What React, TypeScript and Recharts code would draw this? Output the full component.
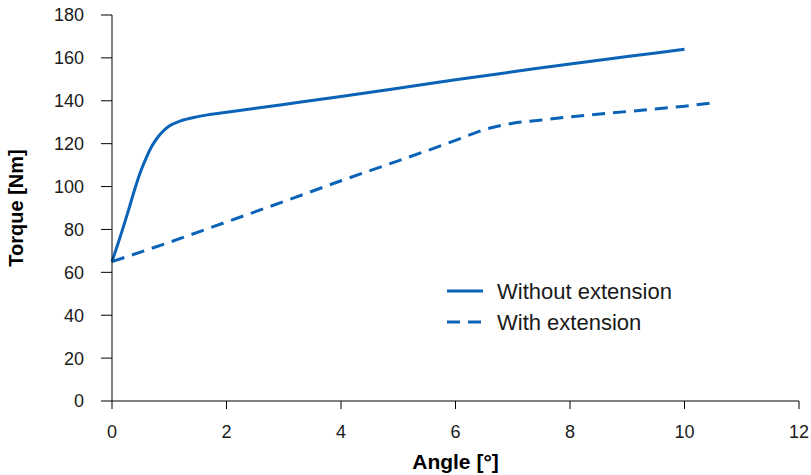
import { Line, LineChart, XAxis, YAxis } from "recharts";

// angle [°] vs torque [Nm]
const withoutAngle = [0, 0.1, 0.2, 0.3, 0.4, 0.5, 0.6, 0.7, 0.8, 0.9, 1, 1.2, 1.5, 2, 3, 4, 5, 6, 7, 8, 9, 10];
const withoutTorque = [65, 73, 81.3, 90, 99, 107, 113.5, 119, 123, 126, 128.2, 130.6, 132.6, 134.6, 138.3, 142, 145.8, 149.8, 153.5, 157.2, 160.6, 164];

const withAngle = [0, 1, 2, 3, 4, 5, 6, 6.5, 7, 7.5, 8, 9, 10, 10.57];
const withTorque = [65, 74, 83.5, 93, 102.7, 112, 121.5, 126.5, 129.5, 131, 132.5, 135, 137.5, 139.3];

const xTicks = [0, 2, 4, 6, 8, 10, 12];
const yTicks = [0, 20, 40, 60, 80, 100, 120, 140, 160, 180];

const seriesNames = ["Without extension", "With extension"];

const BLUE = "#0B63B8";
const FONT = "'Liberation Sans', Arial, sans-serif";

const withoutData = withoutAngle.map((a, i) => ({ angle: a, torque: withoutTorque[i] }));
const withData = withAngle.map((a, i) => ({ angle: a, torque: withTorque[i] }));

function LegendBox() {
  return (
    <svg width={260} height={70} style={{ position: "absolute", left: 440, top: 275, overflow: "visible" }}>
      <line x1={7} x2={43} y1={16} y2={16} stroke={BLUE} strokeWidth={3} />
      <text x={57} y={23.5} fontSize={22} fill="#1a1a1a" fontFamily={FONT}>{seriesNames[0]}</text>
      <line x1={7} x2={43} y1={47} y2={47} stroke={BLUE} strokeWidth={3} strokeDasharray="13 8" />
      <text x={57} y={54.5} fontSize={22} fill="#1a1a1a" fontFamily={FONT}>{seriesNames[1]}</text>
    </svg>
  );
}

export default function App() {
  return (
    <div style={{ position: "absolute", left: 0, top: 0, width: 811, height: 475, background: "#fff" }}>
      <LineChart width={811} height={475} margin={{ top: 15, right: 12, bottom: 0, left: 0 }}>
        <XAxis
          type="number"
          dataKey="angle"
          domain={[0, 12]}
          ticks={xTicks}
          height={74}
          tickSize={8}
          tickMargin={16}
          stroke="#000"
          tick={{ fill: "#1a1a1a", fontSize: 18, fontFamily: FONT }}
          label={{ value: "Angle [°]", position: "insideBottom", offset: 6, fill: "#000", fontSize: 21, fontWeight: "bold", fontFamily: FONT }}
        />
        <YAxis
          type="number"
          dataKey="torque"
          domain={[0, 180]}
          ticks={yTicks}
          width={112}
          tickSize={11}
          tickMargin={17}
          stroke="#000"
          tick={{ fill: "#1a1a1a", fontSize: 18, fontFamily: FONT }}
          label={{ value: "Torque [Nm]", angle: -90, position: "insideLeft", offset: 16, textAnchor: "middle", fill: "#000", fontSize: 20, fontWeight: "bold", fontFamily: FONT }}
        />
        <Line data={withoutData} dataKey="torque" name={seriesNames[0]} type="monotone" stroke={BLUE} strokeWidth={3} dot={false} isAnimationActive={false} />
        <Line data={withData} dataKey="torque" name={seriesNames[1]} type="monotone" stroke={BLUE} strokeWidth={3} strokeDasharray="13 8" dot={false} isAnimationActive={false} />
      </LineChart>
      <LegendBox />
    </div>
  );
}
